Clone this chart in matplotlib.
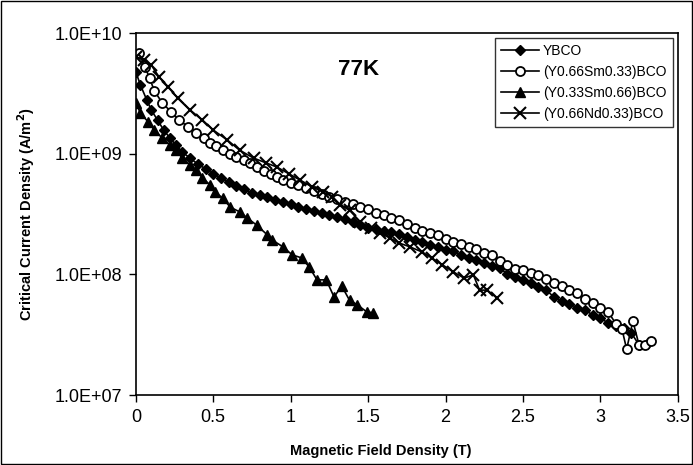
import math
import matplotlib
matplotlib.use("Agg")
import matplotlib.pyplot as plt
from matplotlib.ticker import FixedLocator, FuncFormatter

plt.rcParams["font.family"] = ["Liberation Sans", "DejaVu Sans"]

# ── Dados ─────────────────────────────────────────────────────────
B_ybco = [0.0, 0.03, 0.07, 0.10, 0.14, 0.18, 0.22, 0.26, 0.30, 0.35, 0.40, 0.45,
          0.50, 0.55, 0.60, 0.65, 0.70, 0.75, 0.80, 0.85, 0.90, 0.95, 1.00, 1.05,
          1.10, 1.15, 1.20, 1.25, 1.30, 1.35, 1.40, 1.45, 1.50, 1.55, 1.60, 1.65,
          1.70, 1.75, 1.80, 1.85, 1.90, 1.95, 2.00, 2.05, 2.10, 2.15, 2.20, 2.25,
          2.30, 2.35, 2.40, 2.45, 2.50, 2.55, 2.60, 2.65, 2.70, 2.75, 2.80, 2.85,
          2.90, 2.95, 3.00, 3.05, 3.10, 3.15, 3.20, 3.25, 3.30]
J_ybco = [4.75e9, 3.7e9, 2.8e9, 2.3e9, 1.9e9, 1.57e9, 1.35e9, 1.18e9, 1.03e9, 9.2e8, 8.2e8, 7.5e8,
          6.8e8, 6.3e8, 5.8e8, 5.4e8, 5.1e8, 4.7e8, 4.55e8, 4.4e8, 4.1e8, 4.0e8, 3.8e8, 3.6e8,
          3.5e8, 3.35e8, 3.2e8, 3.1e8, 3.0e8, 2.9e8, 2.7e8, 2.55e8, 2.4e8, 2.38e8, 2.3e8, 2.25e8,
          2.15e8, 2.05e8, 1.93e8, 1.85e8, 1.75e8, 1.69e8, 1.59e8, 1.56e8, 1.45e8, 1.37e8, 1.32e8, 1.24e8,
          1.17e8, 1.13e8, 1.0e8, 9.5e7, 9.0e7, 8.5e7, 7.9e7, 7.4e7, 6.5e7, 6.0e7, 5.7e7, 5.3e7,
          5.1e7, 4.6e7, 4.35e7, 3.95e7, 3.74e7, 3.6e7, 3.27e7, 2.6e7, 2.65e7]

B_sm33 = [0.02, 0.06, 0.09, 0.12, 0.17, 0.23, 0.28, 0.34, 0.39, 0.44, 0.48, 0.52,
          0.56, 0.61, 0.65, 0.70, 0.74, 0.78, 0.83, 0.87, 0.91, 0.95, 1.00, 1.05,
          1.10, 1.15, 1.20, 1.25, 1.30, 1.35, 1.40, 1.45, 1.50, 1.55, 1.60, 1.65,
          1.70, 1.75, 1.80, 1.85, 1.90, 1.95, 2.00, 2.05, 2.10, 2.15, 2.20, 2.25,
          2.30, 2.35, 2.40, 2.45, 2.50, 2.55, 2.60, 2.65, 2.70, 2.75, 2.80, 2.85,
          2.90, 2.95, 3.00, 3.05, 3.10, 3.14, 3.17, 3.21, 3.25, 3.29, 3.33]
J_sm33 = [6.8e9, 5.2e9, 4.2e9, 3.3e9, 2.65e9, 2.2e9, 1.9e9, 1.66e9, 1.49e9, 1.35e9, 1.23e9, 1.15e9,
          1.07e9, 1.0e9, 9.4e8, 8.9e8, 8.4e8, 7.7e8, 7.2e8, 6.8e8, 6.4e8, 6.05e8, 5.75e8, 5.45e8,
          5.15e8, 4.9e8, 4.6e8, 4.4e8, 4.2e8, 4.0e8, 3.8e8, 3.6e8, 3.45e8, 3.25e8, 3.1e8, 2.95e8,
          2.8e8, 2.6e8, 2.4e8, 2.3e8, 2.2e8, 2.1e8, 1.98e8, 1.87e8, 1.78e8, 1.7e8, 1.62e8, 1.5e8,
          1.45e8, 1.3e8, 1.2e8, 1.11e8, 1.08e8, 1.02e8, 9.8e7, 9.2e7, 8.5e7, 8.0e7, 7.4e7, 7.0e7,
          6.3e7, 5.8e7, 5.3e7, 4.9e7, 3.9e7, 3.5e7, 2.4e7, 4.1e7, 2.6e7, 2.6e7, 2.8e7]

B_sm66 = [0.0, 0.03, 0.08, 0.12, 0.17, 0.22, 0.26, 0.30, 0.35, 0.39, 0.43, 0.48,
          0.51, 0.56, 0.61, 0.67, 0.72, 0.78, 0.85, 0.88, 0.95, 1.01, 1.07, 1.12,
          1.17, 1.23, 1.28, 1.33, 1.38, 1.43, 1.49, 1.53]
J_sm66 = [2.63e9, 2.17e9, 1.83e9, 1.57e9, 1.35e9, 1.18e9, 1.07e9, 9.2e8, 8.06e8, 7.33e8, 6.3e8, 5.5e8,
          4.82e8, 4.3e8, 3.6e8, 3.3e8, 2.93e8, 2.56e8, 2.12e8, 1.93e8, 1.69e8, 1.45e8, 1.37e8, 1.15e8,
          9.0e7, 9.0e7, 6.5e7, 8.0e7, 6.1e7, 5.6e7, 4.9e7, 4.8e7]

B_nd33 = [0.0, 0.05, 0.10, 0.15, 0.21, 0.27, 0.35, 0.43, 0.50, 0.59, 0.67, 0.76,
          0.84, 0.91, 0.99, 1.06, 1.14, 1.21, 1.27, 1.32, 1.38, 1.45, 1.52, 1.58,
          1.64, 1.70, 1.77, 1.85, 1.91, 1.98, 2.05, 2.12, 2.18, 2.22, 2.27, 2.33]
J_nd33 = [6.3e9, 5.97e9, 5.43e9, 4.32e9, 3.57e9, 2.89e9, 2.3e9, 1.9e9, 1.57e9, 1.3e9, 1.07e9, 9.2e8,
          8.4e8, 7.76e8, 6.8e8, 6.05e8, 5.3e8, 4.8e8, 4.4e8, 3.76e8, 3.4e8, 2.72e8, 2.42e8, 2.2e8,
          2.0e8, 1.82e8, 1.69e8, 1.53e8, 1.37e8, 1.2e8, 1.05e8, 9.3e7, 9.9e7, 7.4e7, 7.4e7, 6.4e7]

y_ticks = [1e7, 1e8, 1e9, 1e10]
x_ticks = [0, 0.5, 1, 1.5, 2, 2.5, 3, 3.5]
x_tick_labels = ["0", "0.5", "1", "1.5", "2", "2.5", "3", "3.5"]

# ── Figura ────────────────────────────────────────────────────────
fig = plt.figure(figsize=(6.93, 4.65), dpi=100)
ax = fig.add_axes([0.196, 0.1505, 0.782, 0.7785])

ax.plot(B_ybco, J_ybco, color="black", lw=1.2, marker="D", ms=5,
        mfc="black", mec="black", label="YBCO")
ax.plot(B_sm33, J_sm33, color="black", lw=1.2, marker="o", ms=6.5,
        mfc="white", mec="black", mew=1.3, label="(Y0.66Sm0.33)BCO")
ax.plot(B_sm66, J_sm66, color="black", lw=1.2, marker="^", ms=7.5,
        mfc="black", mec="black", label="(Y0.33Sm0.66)BCO")
ax.plot(B_nd33, J_nd33, color="black", lw=1.2, marker="x", ms=8,
        mew=1.5, label="(Y0.66Nd0.33)BCO")

ax.set_yscale("log")
ax.set_ylim(1e7, 1e10)
ax.set_xlim(0, 3.5)
ax.yaxis.set_major_locator(FixedLocator(y_ticks))
ax.yaxis.set_minor_locator(FixedLocator([]))
ax.yaxis.set_major_formatter(FuncFormatter(lambda v, p: "1.0E+%02d" % round(math.log10(v))))
ax.set_xticks(x_ticks)
ax.set_xticklabels(x_tick_labels)
ax.tick_params(axis="both", direction="out", length=5, width=1, labelsize=13, pad=5)

for s in ax.spines.values():
    s.set_linewidth(1.2)

ax.set_xlabel("Magnetic Field Density (T)", fontsize=10.5, fontweight="bold")
ax.xaxis.set_label_coords(0.452, -0.135)
ax.set_ylabel("Critical Current Density (A/m$\\mathbf{^2}$)", fontsize=10.5,
              fontweight="bold")
ax.yaxis.set_label_coords(-0.182, 0.5)

ax.text(0.411, 0.898, "77K", transform=ax.transAxes, fontsize=16,
        fontweight="bold", ha="center", va="center")

leg = ax.legend(loc="upper right", fontsize=10, frameon=True, fancybox=False,
                edgecolor="black", handlelength=2.7, handletextpad=0.3,
                labelspacing=0.5, borderpad=0.45, borderaxespad=0.35)
leg.get_frame().set_linewidth(1.0)

# borda externa da figura
fig.patches.append(plt.Rectangle((0.002, 0.003), 0.996, 0.994, transform=fig.transFigure,
                                 fill=False, edgecolor="black", lw=1.0))

plt.savefig("out.png", dpi=100)
